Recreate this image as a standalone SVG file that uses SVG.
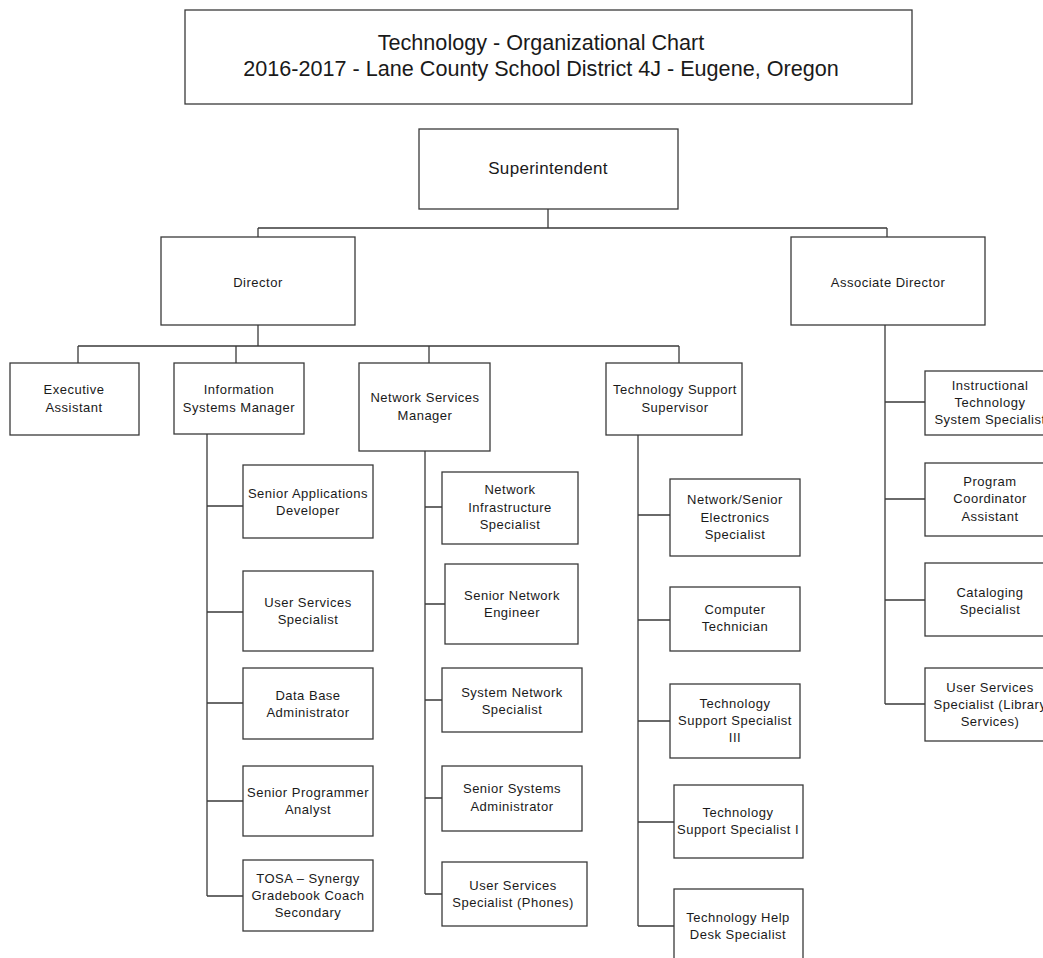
<svg xmlns="http://www.w3.org/2000/svg" width="1043" height="958" viewBox="0 0 1043 958">
<style>
.b{fill:#fff;stroke:#3a3a3a;stroke-width:1.3}
.c{fill:none;stroke:#3a3a3a;stroke-width:1.3}
text{font-family:"Liberation Sans",Arial,sans-serif;fill:#1a1a1a;text-anchor:middle}
.s{font-size:13px;letter-spacing:0.5px}
.t{font-size:21.6px}
.m{font-size:17px;letter-spacing:0.3px}
</style>
<rect width="1043" height="958" fill="#fff"/>
<g id="connectors">
<path class="c" d="M548,209V228M258,228H887M258,228V237M887,228V237"/>
<path class="c" d="M258,325V346M78,346H679M78,346V363M236,346V363M429,346V363M679,346V363"/>
<path class="c" d="M207,434V896M207,506H243M207,612H243M207,703H243M207,801H243M207,896H243"/>
<path class="c" d="M425,451V894M425,507H442M425,604H445M425,700H442M425,798H442M425,894H442"/>
<path class="c" d="M638,435V926M638,515H670M638,620H670M638,721H670M638,822H674M638,926H674"/>
<path class="c" d="M885,325V704M885,402H925M885,499H925M885,600H925M885,704H925"/>
</g>
<g id="title"><rect class="b" x="185" y="10" width="727" height="94"/>
<text class="t" x="541" y="50">Technology - Organizational Chart</text>
<text class="t" x="541" y="76">2016-2017 - Lane County School District 4J - Eugene, Oregon</text></g>
<g id="superintendent"><rect class="b" x="419" y="129" width="259" height="80"/><text class="m" x="548" y="174">Superintendent</text></g>
<g id="director"><rect class="b" x="161" y="237" width="194" height="88"/><text class="s" x="258" y="287">Director</text></g>
<g id="assoc-director"><rect class="b" x="791" y="237" width="194" height="88"/><text class="s" x="888" y="287">Associate Director</text></g>
<g id="exec-assistant"><rect class="b" x="10" y="363" width="129" height="72"/><text class="s" x="74" y="394">Executive</text><text class="s" x="74" y="412">Assistant</text></g>
<g id="ism"><rect class="b" x="174" y="363" width="130" height="71"/><text class="s" x="239" y="394">Information</text><text class="s" x="239" y="412">Systems Manager</text></g>
<g id="nsm"><rect class="b" x="359" y="363" width="131" height="88"/><text class="s" x="425" y="402">Network Services</text><text class="s" x="425" y="420">Manager</text></g>
<g id="tss"><rect class="b" x="606" y="363" width="136" height="72"/><text class="s" x="675" y="394">Technology Support</text><text class="s" x="675" y="412">Supervisor</text></g>
<g id="sad"><rect class="b" x="243" y="465" width="130" height="73"/><text class="s" x="308" y="498">Senior Applications</text><text class="s" x="308" y="515">Developer</text></g>
<g id="uss"><rect class="b" x="243" y="571" width="130" height="80"/><text class="s" x="308" y="607">User Services</text><text class="s" x="308" y="624">Specialist</text></g>
<g id="dba"><rect class="b" x="243" y="668" width="130" height="71"/><text class="s" x="308" y="700">Data Base</text><text class="s" x="308" y="717">Administrator</text></g>
<g id="spa"><rect class="b" x="243" y="766" width="130" height="70"/><text class="s" x="308" y="797">Senior Programmer</text><text class="s" x="308" y="814">Analyst</text></g>
<g id="tosa"><rect class="b" x="243" y="860" width="130" height="71"/><text class="s" x="308" y="883">TOSA – Synergy</text><text class="s" x="308" y="900">Gradebook Coach</text><text class="s" x="308" y="917">Secondary</text></g>
<g id="nis"><rect class="b" x="442" y="472" width="136" height="72"/><text class="s" x="510" y="494">Network</text><text class="s" x="510" y="512">Infrastructure</text><text class="s" x="510" y="529">Specialist</text></g>
<g id="sne"><rect class="b" x="445" y="564" width="133" height="80"/><text class="s" x="512" y="600">Senior Network</text><text class="s" x="512" y="617">Engineer</text></g>
<g id="sysns"><rect class="b" x="442" y="668" width="140" height="64"/><text class="s" x="512" y="697">System Network</text><text class="s" x="512" y="714">Specialist</text></g>
<g id="ssa"><rect class="b" x="442" y="766" width="140" height="65"/><text class="s" x="512" y="793">Senior Systems</text><text class="s" x="512" y="811">Administrator</text></g>
<g id="uss-phones"><rect class="b" x="442" y="862" width="145" height="64"/><text class="s" x="513" y="890">User Services</text><text class="s" x="513" y="907">Specialist (Phones)</text></g>
<g id="nses"><rect class="b" x="670" y="479" width="130" height="77"/><text class="s" x="735" y="504">Network/Senior</text><text class="s" x="735" y="522">Electronics</text><text class="s" x="735" y="539">Specialist</text></g>
<g id="ct"><rect class="b" x="670" y="587" width="130" height="64"/><text class="s" x="735" y="614">Computer</text><text class="s" x="735" y="631">Technician</text></g>
<g id="tss3"><rect class="b" x="670" y="684" width="130" height="74"/><text class="s" x="735" y="708">Technology</text><text class="s" x="735" y="725">Support Specialist</text><text class="s" x="735" y="742">III</text></g>
<g id="tss1"><rect class="b" x="674" y="785" width="129" height="73"/><text class="s" x="738" y="817">Technology</text><text class="s" x="738" y="834">Support Specialist I</text></g>
<g id="thds"><rect class="b" x="674" y="889" width="129" height="100"/><text class="s" x="738" y="922">Technology Help</text><text class="s" x="738" y="939">Desk Specialist</text></g>
<g id="itss"><rect class="b" x="925" y="371" width="130" height="64"/><text class="s" x="990" y="390">Instructional</text><text class="s" x="990" y="407">Technology</text><text class="s" x="990" y="424">System Specialist</text></g>
<g id="pca"><rect class="b" x="925" y="463" width="130" height="73"/><text class="s" x="990" y="486">Program</text><text class="s" x="990" y="503">Coordinator</text><text class="s" x="990" y="521">Assistant</text></g>
<g id="cs"><rect class="b" x="925" y="563" width="130" height="73"/><text class="s" x="990" y="597">Cataloging</text><text class="s" x="990" y="614">Specialist</text></g>
<g id="uss-library"><rect class="b" x="925" y="668" width="130" height="73"/><text class="s" x="990" y="692">User Services</text><text class="s" x="990" y="709">Specialist (Library</text><text class="s" x="990" y="726">Services)</text></g>
</svg>
